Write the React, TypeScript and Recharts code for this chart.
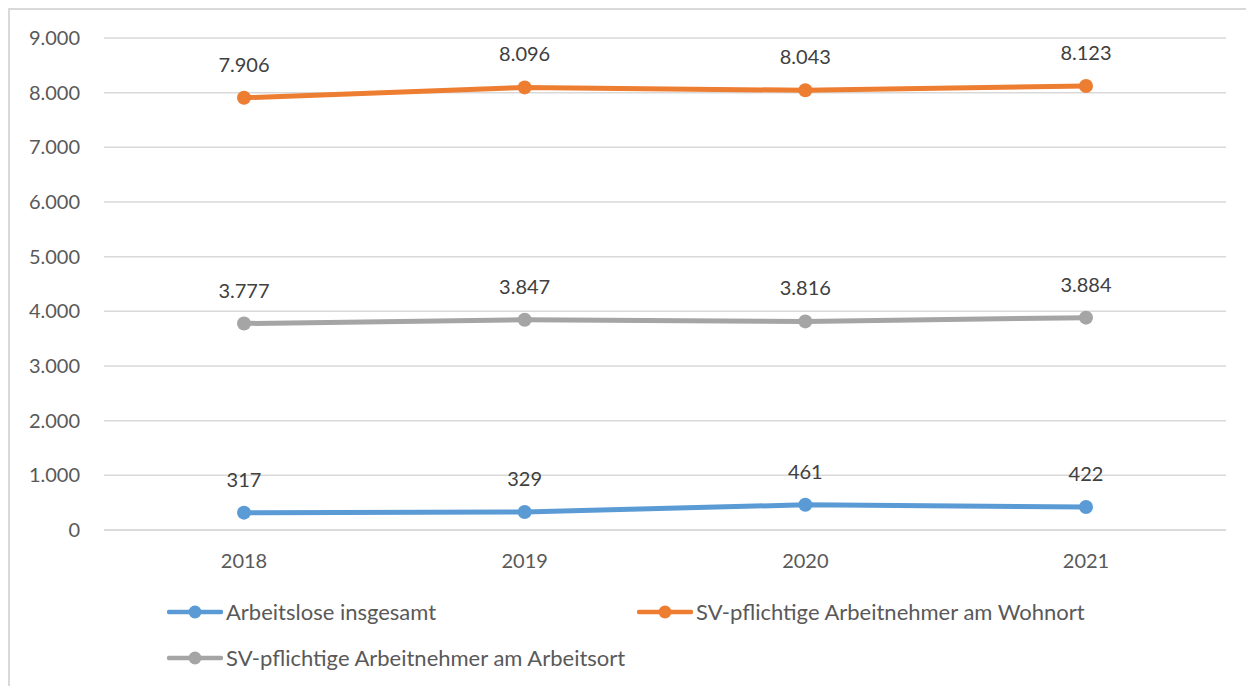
import React from "react";
import { LineChart, Line, XAxis, YAxis, CartesianGrid, LabelList, Legend } from "recharts";

const years = ["2018", "2019", "2020", "2021"];
const arbeitslose = [317, 329, 461, 422];
const wohnort = [7906, 8096, 8043, 8123];
const arbeitsort = [3777, 3847, 3816, 3884];
const yTicks = [0, 1000, 2000, 3000, 4000, 5000, 6000, 7000, 8000, 9000];

const seriesNames = {
  a: "Arbeitslose insgesamt",
  w: "SV-pflichtige Arbeitnehmer am Wohnort",
  o: "SV-pflichtige Arbeitnehmer am Arbeitsort",
};
const colors = { a: "#5b9bd5", w: "#ed7d31", o: "#a5a5a5" };

const data = years.map((y, i) => ({
  year: y,
  a: arbeitslose[i],
  w: wohnort[i],
  o: arbeitsort[i],
}));

const FONT = "Lato, 'Open Sans', sans-serif";
const fmt = (v: number) => v.toLocaleString("de-DE");

const LegendIcon = ({ color }: { color: string }) => (
  <svg width={56} height={14} style={{ display: "block" }}>
    <line x1={2} y1={7} x2={54} y2={7} stroke={color} strokeWidth={4.5} strokeLinecap="round" />
    <circle cx={28} cy={7} r={6.5} fill={color} />
  </svg>
);

const LegendItem = ({ color, label, left, top }: { color: string; label: string; left: number; top: number }) => (
  <div style={{ position: "absolute", left, top, display: "flex", alignItems: "center", whiteSpace: "nowrap" }}>
    <LegendIcon color={color} />
    <span style={{ marginLeft: 3, fontFamily: FONT, fontSize: 22, color: "#595959", lineHeight: "24px" }}>{label}</span>
  </div>
);

const renderLegend = () => (
  <div style={{ position: "relative", width: 1246, height: 90 }}>
    <LegendItem color={colors.a} label={seriesNames.a} left={159} top={0} />
    <LegendItem color={colors.w} label={seriesNames.w} left={629} top={0} />
    <LegendItem color={colors.o} label={seriesNames.o} left={159} top={46} />
  </div>
);

export default function App() {
  return (
    <div style={{ position: "relative", width: 1246, height: 678 }}>
      <div
        style={{
          position: "absolute",
          left: 0,
          top: 0,
          width: 1246,
          height: 678,
          boxSizing: "border-box",
          borderTop: "2px solid #d9d9d9",
          borderLeft: "2px solid #d9d9d9",
        }}
      />
      <LineChart
        width={1246}
        height={678}
        data={data}
        margin={{ top: 30, right: 28, left: 0, bottom: 116 }}
        style={{ fontFamily: FONT }}
      >
        <CartesianGrid vertical={false} stroke="#d9d9d9" strokeWidth={1.5} />
        <XAxis
          dataKey="year"
          padding={{ left: 140, right: 140 }}
          axisLine={{ stroke: "#d9d9d9", strokeWidth: 1.5 }}
          tickLine={false}
          tickSize={0}
          tickMargin={24}
          height={40}
          tick={{ fill: "#595959", fontSize: 20, fontFamily: FONT }}
        />
        <YAxis
          width={96}
          domain={[0, 9000]}
          ticks={yTicks}
          tickFormatter={fmt}
          axisLine={false}
          tickLine={false}
          tickSize={0}
          tickMargin={24}
          tick={{ fill: "#595959", fontSize: 20, fontFamily: FONT }}
        />
        <Legend
          layout="horizontal"
          verticalAlign="middle"
          align="center"
          content={renderLegend}
          wrapperStyle={{ top: 592, left: 0, width: 1246, height: 90 }}
        />
        {(["a", "w", "o"] as const).map((k) => (
          <Line
            key={k}
            dataKey={k}
            name={seriesNames[k]}
            stroke={colors[k]}
            strokeWidth={5}
            dot={{ r: 7, fill: colors[k], stroke: colors[k], strokeWidth: 0 }}
            activeDot={false}
            isAnimationActive={false}
          >
            <LabelList
              dataKey={k}
              position="top"
              offset={26}
              formatter={(v: any) => fmt(Number(v))}
              style={{ fill: "#404040", fontSize: 20, fontFamily: FONT }}
            />
          </Line>
        ))}
      </LineChart>
    </div>
  );
}
